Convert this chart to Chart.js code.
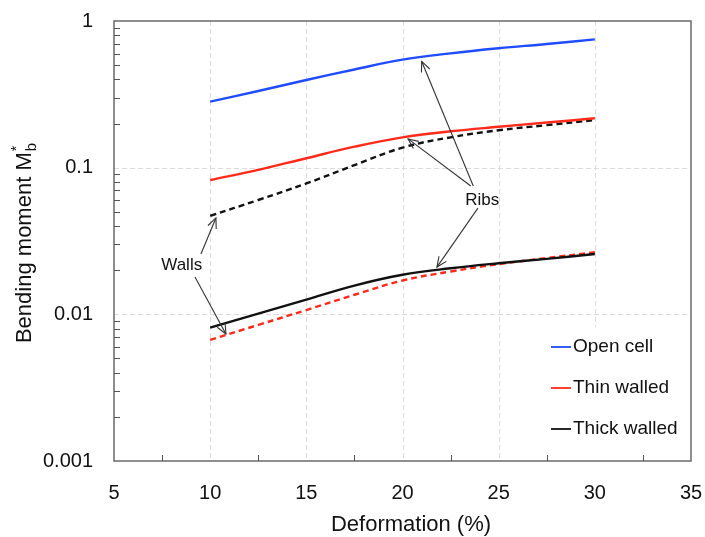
<!DOCTYPE html>
<html>
<head>
<meta charset="utf-8">
<script src="https://cdn.jsdelivr.net/npm/chart.js@4"></script>
<style>
html,body{margin:0;padding:0;background:#fff;}
#wrap{width:705px;height:537px;position:relative;}
</style>
</head>
<body>
<div id="wrap"><canvas id="c" width="705" height="537"></canvas></div>
<script>
// ---- data ----
const deformation = [10, 12.5, 15, 17.5, 20, 22.5, 25, 27.5, 30];
const openCell    = [0.282, 0.333, 0.396, 0.467, 0.545, 0.602, 0.652, 0.697, 0.750];
const thinRibs    = [0.0824, 0.0967, 0.116, 0.139, 0.161, 0.177, 0.190, 0.203, 0.217];
const thickWalls  = [0.0469, 0.0602, 0.0780, 0.104, 0.137, 0.161, 0.180, 0.195, 0.211];
const thickRibs   = [0.00811, 0.0101, 0.0126, 0.0157, 0.0186, 0.0206, 0.0223, 0.0239, 0.0258];
const thinWalls   = [0.00669, 0.00847, 0.0107, 0.0136, 0.0170, 0.0196, 0.0220, 0.0242, 0.0265];
const yTickValues = [0.001, 0.01, 0.1, 1];
const xTickValues = [5, 10, 15, 20, 25, 30, 35];
const legendLabels = ['Open cell', 'Thin walled', 'Thick walled'];
const legendColors = ['#1f4cff', '#ff2a1a', '#111111'];
// annotation anchors in data space
const ribsLabel = {x: 24.15, y: 0.060, text: 'Ribs'};
const ribsArrows = [
  {from: {x: 23.68, y: 0.075}, to: {x: 21.0, y: 0.53}},
  {from: {x: 23.55, y: 0.075}, to: {x: 20.29, y: 0.157}},
  {from: {x: 23.92, y: 0.053}, to: {x: 21.79, y: 0.021}}
];
const wallsLabel = {x: 8.52, y: 0.0217, text: 'Walls'};
const wallsArrows = [
  {from: {x: 9.52, y: 0.0258}, to: {x: 10.3, y: 0.0454}},
  {from: {x: 9.21, y: 0.0180}, to: {x: 10.82, y: 0.00735}}
];

const FONT = '"Liberation Sans", Arial, sans-serif';
const pts = arr => deformation.map((x, i) => ({x: x, y: arr[i]}));

function ds(label, arr, color, dashed) {
  return {
    label: label, data: pts(arr), borderColor: color, backgroundColor: color,
    borderWidth: 2.4, pointRadius: 0, fill: false,
    tension: 0.4, borderDash: dashed ? [6, 4] : []
  };
}

const decor = {
  id: 'decor',
  beforeDatasetsDraw(chart) {
    const {ctx, chartArea: a, scales: {x, y}} = chart;
    ctx.save();
    ctx.strokeStyle = '#dcdcdc'; ctx.lineWidth = 1; ctx.setLineDash([5, 3]);
    [10, 15, 20, 25, 30].forEach(v => {
      const px = Math.round(x.getPixelForValue(v)) + 0.5;
      ctx.beginPath(); ctx.moveTo(px, a.top); ctx.lineTo(px, a.bottom); ctx.stroke();
    });
    [0.1, 0.01].forEach(v => {
      const py = Math.round(y.getPixelForValue(v)) + 0.5;
      ctx.beginPath(); ctx.moveTo(a.left, py); ctx.lineTo(a.right, py); ctx.stroke();
    });
    ctx.setLineDash([]);
    ctx.fillStyle = '#fff';
    ctx.fillRect(540, 327, a.right - 540, a.bottom - 327);
    ctx.restore();
  },
  afterDatasetsDraw(chart) {
    const {ctx, chartArea: a, scales: {x, y}} = chart;
    ctx.save();
    ctx.strokeStyle = '#6a6a6a'; ctx.lineWidth = 1.5;
    ctx.strokeRect(a.left, a.top, a.right - a.left, a.bottom - a.top);
    ctx.lineWidth = 1; ctx.strokeStyle = '#555';
    [0.001, 0.01, 0.1].forEach(d => {
      for (let k = 2; k <= 9; k++) {
        const py = Math.round(y.getPixelForValue(d * k)) + 0.5;
        ctx.beginPath(); ctx.moveTo(a.left, py); ctx.lineTo(a.left + 6, py); ctx.stroke();
      }
    });
    [7.5, 12.5, 17.5, 22.5, 27.5, 32.5].forEach(v => {
      const px = Math.round(x.getPixelForValue(v)) + 0.5;
      ctx.beginPath(); ctx.moveTo(px, a.bottom); ctx.lineTo(px, a.bottom - 6); ctx.stroke();
    });
    ctx.font = '19px ' + FONT; ctx.textBaseline = 'middle'; ctx.textAlign = 'left';
    legendLabels.forEach((t, i) => {
      const yy = 347 + i * 41;
      ctx.strokeStyle = legendColors[i]; ctx.lineWidth = 1.8;
      ctx.beginPath(); ctx.moveTo(551, yy); ctx.lineTo(571, yy); ctx.stroke();
      ctx.fillStyle = '#111'; ctx.fillText(t, 573, yy);
    });
    function P(p) { return {x: x.getPixelForValue(p.x), y: y.getPixelForValue(p.y)}; }
    function arrow(f, t) {
      const A = P(f), B = P(t);
      ctx.strokeStyle = '#333'; ctx.lineWidth = 1.1;
      ctx.beginPath(); ctx.moveTo(A.x, A.y); ctx.lineTo(B.x, B.y); ctx.stroke();
      const ang = Math.atan2(B.y - A.y, B.x - A.x), L = 11, w = 0.42;
      ctx.beginPath();
      ctx.moveTo(B.x - L * Math.cos(ang - w), B.y - L * Math.sin(ang - w));
      ctx.lineTo(B.x, B.y);
      ctx.lineTo(B.x - L * Math.cos(ang + w), B.y - L * Math.sin(ang + w));
      ctx.stroke();
    }
    ribsArrows.forEach(r => arrow(r.from, r.to));
    wallsArrows.forEach(r => arrow(r.from, r.to));
    ctx.fillStyle = '#111'; ctx.font = '17px ' + FONT; ctx.textAlign = 'center';
    [ribsLabel, wallsLabel].forEach(l => { const p = P(l); ctx.fillText(l.text, p.x, p.y); });
    ctx.font = '22px ' + FONT; ctx.textAlign = 'center'; ctx.textBaseline = 'middle';
    ctx.fillText('Deformation (%)', 411, 525);
    ctx.translate(25, 243); ctx.rotate(-Math.PI / 2);
    const main = 'Bending moment M';
    ctx.font = '22px ' + FONT;
    const w1 = ctx.measureText(main).width;
    ctx.font = '15px ' + FONT;
    const w2 = ctx.measureText('b').width;
    const total = w1 + w2 + 1;
    let sx = -total / 2;
    ctx.textAlign = 'left';
    ctx.font = '22px ' + FONT; ctx.fillText(main, sx, 0);
    ctx.font = '14px ' + FONT; ctx.fillText('*', sx + w1 + 1, -8);
    ctx.font = '15px ' + FONT; ctx.fillText('b', sx + w1 + 1, 7);
    ctx.restore();
  }
};

new Chart(document.getElementById('c'), {
  type: 'line',
  data: {
    datasets: [
      ds('Open cell', openCell, legendColors[0], false),
      ds('Thin walled ribs', thinRibs, legendColors[1], false),
      ds('Thick walled walls', thickWalls, legendColors[2], true),
      ds('Thick walled ribs', thickRibs, legendColors[2], false),
      ds('Thin walled walls', thinWalls, legendColors[1], true)
    ]
  },
  options: {
    responsive: false, animation: false, devicePixelRatio: 1,
    layout: {padding: {top: 21, right: 14, left: 0, bottom: 0}},
    plugins: {legend: {display: false}, tooltip: {enabled: false}},
    scales: {
      x: {
        type: 'linear', min: 5, max: 35,
        afterBuildTicks: s => { s.ticks = xTickValues.map(v => ({value: v})); },
        afterFit: s => { s.height = 76; s.paddingLeft = 0; s.paddingRight = 0; },
        grid: {display: false, drawTicks: false}, border: {display: false},
        ticks: {font: {family: FONT, size: 20}, color: '#111', padding: 20, maxRotation: 0}
      },
      y: {
        type: 'logarithmic', min: 0.001, max: 1,
        afterBuildTicks: s => { s.ticks = yTickValues.map(v => ({value: v})); },
        afterFit: s => { s.width = 114; s.paddingTop = 0; s.paddingBottom = 0; },
        grid: {display: false, drawTicks: false}, border: {display: false},
        ticks: {font: {family: FONT, size: 20}, color: '#111', padding: 21,
          callback: v => String(v)}
      }
    }
  },
  plugins: [decor]
});
</script>
</body>
</html>
